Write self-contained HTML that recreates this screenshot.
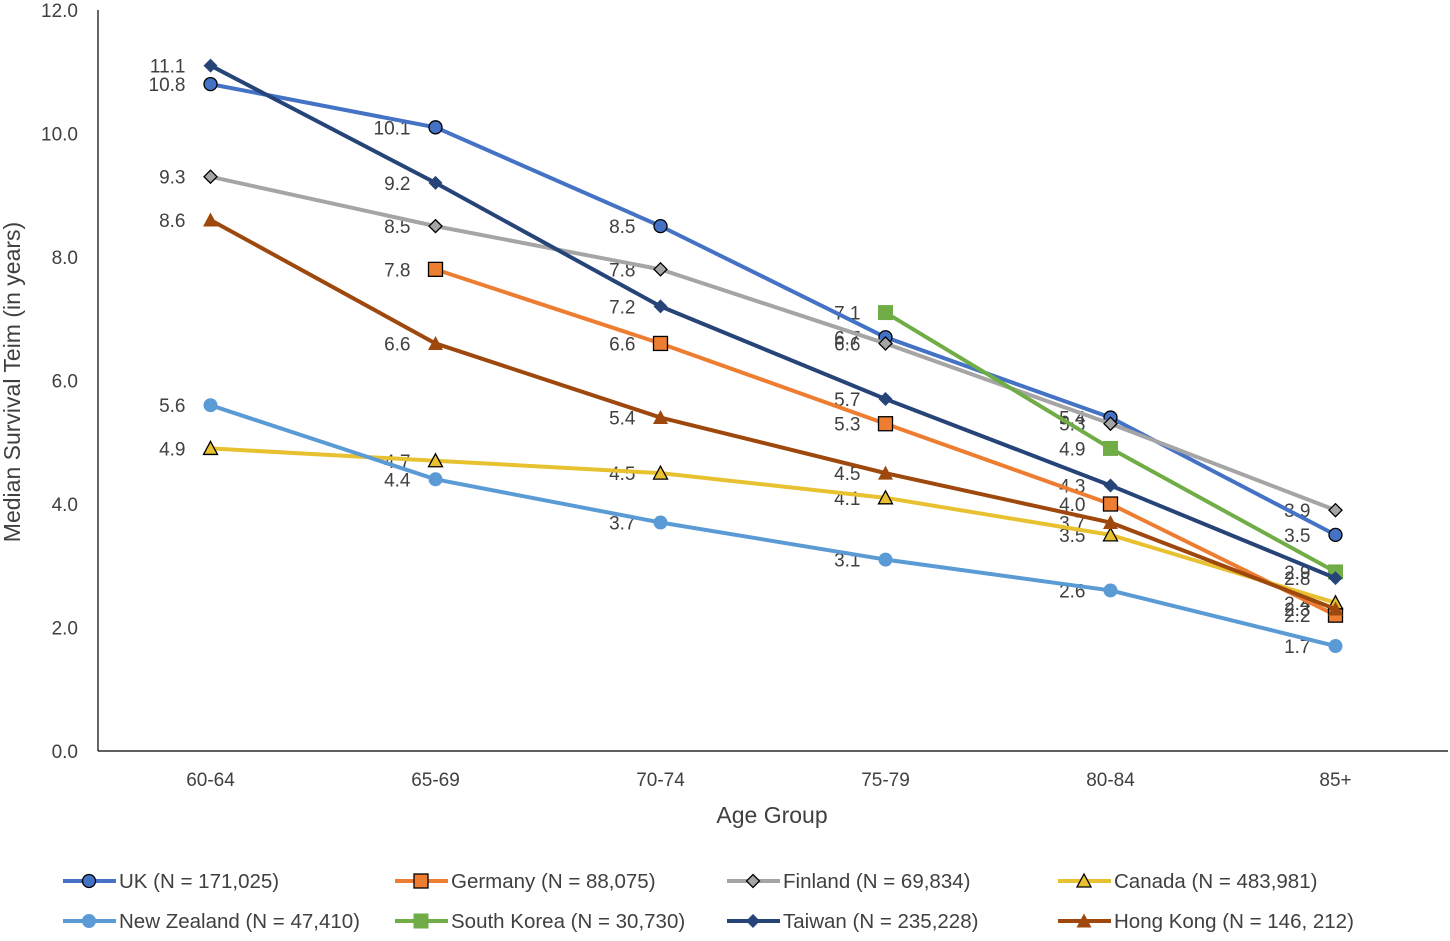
<!DOCTYPE html>
<html><head><meta charset="utf-8"><style>
body{margin:0;background:#fff;}
svg text{font-family:"Liberation Sans",sans-serif;fill:#404040;}
</style></head><body>
<svg id="chart" width="1450" height="936" xmlns="http://www.w3.org/2000/svg">
<g id="labels"></g><g id="axes"></g><g id="series"></g><g id="legend"></g>
</svg>
<script>
const categories=["60-64","65-69","70-74","75-79","80-84","85+"];
const yTicks=[0,2,4,6,8,10,12];
const seriesNames=["UK (N = 171,025)","Germany (N = 88,075)","Finland (N = 69,834)","Canada (N = 483,981)","New Zealand (N = 47,410)","South Korea (N = 30,730)","Taiwan (N = 235,228)","Hong Kong (N = 146, 212)"];
const ukVals=[10.8,10.1,8.5,6.7,5.4,3.5];
const germanyVals=[null,7.8,6.6,5.3,4.0,2.2];
const finlandVals=[9.3,8.5,7.8,6.6,5.3,3.9];
const canadaVals=[4.9,4.7,4.5,4.1,3.5,2.4];
const nzVals=[5.6,4.4,3.7,3.1,2.6,1.7];
const koreaVals=[null,null,null,7.1,4.9,2.9];
const taiwanVals=[11.1,9.2,7.2,5.7,4.3,2.8];
const hkVals=[8.6,6.6,5.4,4.5,3.7,2.3];
const allVals=[ukVals,germanyVals,finlandVals,canadaVals,nzVals,koreaVals,taiwanVals,hkVals];
const colors=["#4472C4","#ED7D31","#A5A5A5","#E8C130","#5B9BD5","#70AD47","#264478","#9E480E"];
const markers=["circle","square","diamond","triangle","dot","sq","dia","tri"];
const NS="http://www.w3.org/2000/svg";
const X0=98,X1=1448,Y0=751,Y1=10;
const xs=i=>X0+(X1-X0)/categories.length*(i+0.5);
const ys=v=>Y0-(Y0-Y1)*v/12;
function mk(tag,attrs,parent){const e=document.createElementNS(NS,tag);for(const k in attrs)e.setAttribute(k,attrs[k]);parent.appendChild(e);return e;}
const axes=document.getElementById('axes');
let a=mk('line',{x1:X0,y1:Y1,x2:X0,y2:Y0,stroke:'#000','stroke-width':1.2},axes);


a=mk('line',{x1:X0,y1:Y0,x2:X1,y2:Y0,stroke:'#000','stroke-width':1.2},axes);


yTicks.forEach(t=>{const e=mk('text',{x:78,y:ys(t)+7,'text-anchor':'end','font-size':19},axes);e.textContent=t.toFixed(1);

});
categories.forEach((c,i)=>{const e=mk('text',{x:xs(i),y:786,'text-anchor':'middle','font-size':19},axes);e.textContent=c;

});
let t=mk('text',{x:772,y:823,'text-anchor':'middle','font-size':23},axes);t.textContent='Age Group';


t=mk('text',{x:0,y:0,'text-anchor':'middle','font-size':23,transform:'translate(20,382) rotate(-90)'},axes);t.textContent='Median Survival Teim (in years)';


function marker(type,x,y,col,g){
 const s={stroke:'#000','stroke-width':1.3,fill:col};
 if(type==='circle')return mk('circle',Object.assign({cx:x,cy:y,r:6.5},s),g);
 if(type==='dot')return mk('circle',{cx:x,cy:y,r:7,fill:col},g);
 if(type==='square')return mk('rect',Object.assign({x:x-7,y:y-7,width:14,height:14},s),g);
 if(type==='sq')return mk('rect',{x:x-7.5,y:y-7.5,width:15,height:15,fill:col},g);
 if(type==='diamond')return mk('polygon',Object.assign({points:`${x},${y-6.5} ${x+6.5},${y} ${x},${y+6.5} ${x-6.5},${y}`},s),g);
 if(type==='dia')return mk('polygon',{points:`${x},${y-7} ${x+7},${y} ${x},${y+7} ${x-7},${y}`,fill:col},g);
 if(type==='triangle')return mk('polygon',Object.assign({points:`${x},${y-7} ${x+7},${y+6} ${x-7},${y+6}`},s),g);
 return mk('polygon',{points:`${x},${y-7.5} ${x+7.5},${y+6.5} ${x-7.5},${y+6.5}`,fill:col},g);
}
const labels=document.getElementById('labels'),series=document.getElementById('series');
allVals.forEach((vals,si)=>{
 const g=mk('g',{},series);
 
 
 const pts=[];vals.forEach((v,i)=>{if(v!==null)pts.push([xs(i),ys(v),v]);});
 const p=mk('polyline',{points:pts.map(q=>q[0]+','+q[1]).join(' '),fill:'none',stroke:colors[si],'stroke-width':4,'stroke-linejoin':'round'},g);
 
 
 pts.forEach(q=>{const m=marker(markers[si],q[0],q[1],colors[si],g);
  
  
  const l=mk('text',{x:q[0]-25,y:q[1]+7,'text-anchor':'end','font-size':19},labels);l.textContent=q[2].toFixed(1);
  
  });
});
const legend=document.getElementById('legend');
const lx=[63,395,727,1058],ly=[881,921];
seriesNames.forEach((n,i)=>{
 const x=lx[i%4],y=ly[Math.floor(i/4)];
 const g=mk('g',{},legend);
 
 
 mk('line',{x1:x,y1:y,x2:x+53,y2:y,stroke:colors[i],'stroke-width':4},g);
 marker(markers[i],x+26,y,colors[i],g);
 const e=mk('text',{x:x+56,y:y+7,'font-size':20.5},g);e.textContent=n;
});
</script>
</body></html>
